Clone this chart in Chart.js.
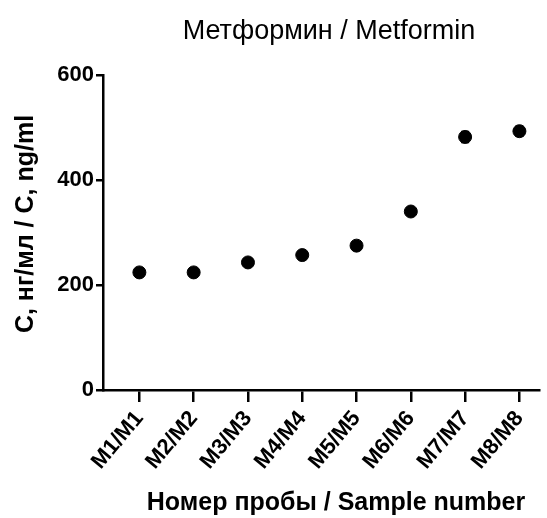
<!DOCTYPE html>
<html>
<head>
<meta charset="utf-8">
<script src="https://cdn.jsdelivr.net/npm/chart.js@4"></script>
<style>
  html, body { margin: 0; padding: 0; background: #fff; }
  #wrap { width: 547px; height: 518px; }
</style>
</head>
<body>
<div id="wrap"><canvas id="chart"></canvas></div>
<script>
// data
const samples = ['M1/M1', 'M2/M2', 'M3/M3', 'M4/M4', 'M5/M5', 'M6/M6', 'M7/M7', 'M8/M8'];
const positions = [1, 2, 3, 4, 5, 6, 7, 8];
const concentrations = [224, 224, 243, 257, 275, 340, 482, 493];
const errors = [0, 0, 0, 0, 0, 0, 10, 9];
const yTicks = [0, 200, 400, 600];

const chartTitle = 'Метформин / Metformin';
const xTitle = 'Номер пробы / Sample number';
const yTitle = 'С, нг/мл / C, ng/ml';

const FONT = '"Liberation Sans", Arial, sans-serif';

// small vertical error bars with caps
const errorBars = {
  id: 'errorBars',
  afterDatasetsDraw(chart) {
    const ctx = chart.ctx;
    const x = chart.scales.x, y = chart.scales.y;
    ctx.save();
    ctx.strokeStyle = '#000';
    ctx.lineWidth = 2;
    for (let i = 0; i < concentrations.length; i++) {
      if (!errors[i]) continue;
      const px = x.getPixelForValue(positions[i]);
      const top = y.getPixelForValue(concentrations[i] + errors[i]);
      const bot = y.getPixelForValue(concentrations[i] - errors[i]);
      ctx.beginPath();
      ctx.moveTo(px, top); ctx.lineTo(px, bot);
      ctx.moveTo(px - 4, top); ctx.lineTo(px + 4, top);
      ctx.moveTo(px - 4, bot); ctx.lineTo(px + 4, bot);
      ctx.stroke();
    }
    ctx.restore();
  }
};

// titles placed like the original figure
const titles = {
  id: 'titles',
  afterDraw(chart) {
    const ctx = chart.ctx;
    ctx.save();
    ctx.fillStyle = '#000';
    ctx.textAlign = 'center';
    ctx.textBaseline = 'alphabetic';
    ctx.font = '27px ' + FONT;
    ctx.fillText(chartTitle, 329, 39);
    ctx.font = 'bold 25px ' + FONT;
    ctx.fillText(xTitle, 336, 510);
    ctx.translate(33, 224);
    ctx.rotate(-Math.PI / 2);
    ctx.font = 'bold 25px ' + FONT;
    ctx.fillText(yTitle, 0, 0);
    ctx.restore();
  }
};

new Chart('chart', {
  type: 'scatter',
  data: {
    datasets: [{
      data: positions.map((p, i) => ({ x: p, y: concentrations[i] })),
      backgroundColor: '#000',
      borderColor: '#000',
      pointRadius: 6.5,
      pointHoverRadius: 6.5
    }]
  },
  options: {
    responsive: true,
    maintainAspectRatio: false,
    animation: false,
    layout: { padding: { top: 75, right: 7, left: 0, bottom: 0 } },
    plugins: { legend: { display: false }, tooltip: { enabled: false } },
    scales: {
      x: {
        type: 'linear',
        min: 0.33,
        max: 8.37,
        afterBuildTicks: s => { s.ticks = positions.map(v => ({ value: v })); },
        afterFit: s => { s.height = 128; },
        border: { color: '#000', width: 2.5 },
        grid: { drawOnChartArea: false, color: '#000', tickColor: '#000', tickLength: 12, lineWidth: 2.5 },
        ticks: {
          autoSkip: false,
          maxRotation: 50,
          minRotation: 50,
          color: '#000',
          padding: 4,
          font: { family: FONT, size: 22, weight: 'bold' },
          callback: v => samples[positions.indexOf(v)]
        }
      },
      y: {
        min: 0,
        max: 600,
        afterBuildTicks: s => { s.ticks = yTicks.map(v => ({ value: v })); },
        afterFit: s => { s.width = 103; },
        border: { color: '#000', width: 2.5 },
        grid: { drawOnChartArea: false, color: '#000', tickColor: '#000', tickLength: 7, lineWidth: 2.5 },
        ticks: {
          color: '#000',
          padding: 2,
          font: { family: FONT, size: 22, weight: 'bold' }
        }
      }
    }
  },
  plugins: [errorBars, titles]
});
</script>
</body>
</html>
